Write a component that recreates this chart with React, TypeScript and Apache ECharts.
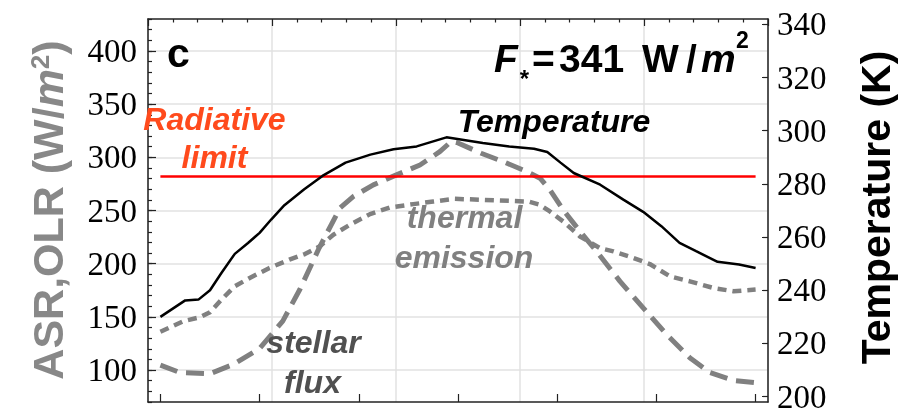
import React, { useEffect, useRef } from "react";
import * as echarts from "echarts";

// Temperature (K), right axis
const tempLat = [-90, -82.5, -78.5, -75, -71.5, -67.5, -63.5, -60, -56.5, -52.5, -46.5, -41, -34, -26.5, -19.5, -12.5, -7.5, -3.5, 7.5, 15.5, 23, 27, 31, 35, 43, 50, 56, 61.5, 67, 72, 78.5, 85, 90];
const tempK = [230, 236.2, 236.5, 240, 246.6, 253.7, 257.8, 261.6, 266.6, 272, 278, 283, 288, 291, 293, 294.1, 296, 297.5, 295.4, 294.1, 293.2, 292, 288, 284.1, 279.7, 274.1, 269.5, 264.1, 257.8, 254.7, 250.7, 249.7, 248.4];

// Thermal emission (OLR), left axis
const olrLat = [-90, -83, -78, -75, -71.5, -67.5, -63, -57, -51, -46.3, -41.8, -37.7, -32.7, -26.6, -20.6, -13.5, -7.5, -1, 7.6, 15.5, 21.3, 24.8, 27.8, 31.8, 36.9, 42.9, 47, 53, 58, 64.1, 70.1, 77.2, 83.3, 90];
const olrW = [136, 146, 149.7, 154.4, 166.3, 178.8, 186.6, 196, 203.8, 209.1, 216.3, 227.2, 236.6, 246.6, 252.8, 256, 258.4, 261, 260, 259.1, 258.4, 255.3, 249.1, 239.7, 225.6, 214.7, 211.6, 205.4, 199.7, 188.1, 183.4, 177.2, 174.1, 175.7];

// Stellar flux (ASR), left axis
const asrLat = [-90, -84, -75, -68, -60, -53, -47.8, -42, -35.7, -31.7, -25.6, -18.6, -11.5, -5.5, -2, 0, 7, 13.7, 20.8, 24.8, 27.8, 31.8, 36.9, 41.9, 49, 56, 63.1, 70.1, 76.2, 83.3, 90];
const asrW = [104.7, 97.6, 96.6, 105.3, 120.3, 146, 176, 214.7, 252.3, 263.1, 274.1, 283.5, 292.8, 305.3, 315, 313.5, 303.8, 295.9, 286.6, 280.4, 269.4, 250.7, 230.3, 211.6, 183.4, 158.5, 133.5, 111.6, 97.6, 90.3, 88.2];

// Radiative limit
const limitLat = [-90, 90];
const radiativeLimit = 282;

const leftTicks = [100, 150, 200, 250, 300, 350, 400];
const rightTicks = [200, 220, 240, 260, 280, 300, 320, 340];
const bottomTicks = [-90, -60, -30, 0, 30, 60, 90];

const SANS = "Liberation Sans";
const SERIF = "Times New Roman";

const pairs = (xs: number[], ys: number[]) => xs.map((x, i) => [x, ys[i]]);

const txt = (
  text: string,
  x: number,
  y: number,
  size: number,
  fill: string,
  opts: any = {}
) => {
  const style: any = {
    text,
    fill,
    fontSize: size,
    fontWeight: opts.weight || "bold",
    fontStyle: opts.italic ? "italic" : "normal",
    fontFamily: SANS,
    align: opts.align || "center",
    verticalAlign: "middle",
  };
  if (opts.rich) style.rich = opts.rich;
  return { type: "text", x, y, z: 10, rotation: opts.rotation || 0, style };
};

export default function App() {
  const ref = useRef<HTMLDivElement>(null);
  useEffect(() => {
    document.body.style.margin = "0";
    const chart = echarts.init(ref.current!, null, { renderer: "svg" });
    const mkLine = () => ({ show: true, onZero: false, lineStyle: { color: "#222", width: 1.5 } });
    const mkTick = () => ({ color: "#222", width: 1.2 });
    const mkLabel = (values: number[], margin: number) => ({
      show: true,
      customValues: values,
      margin,
      fontFamily: SERIF,
      fontSize: 33,
      color: "#000",
    });
    const red = "#ff4a1c";
    chart.setOption({
      animation: false,
      grid: { left: 148, right: 145, top: 19, bottom: 6, containLabel: false, outerBoundsMode: "none" },
      xAxis: [
        {
          type: "value",
          position: "bottom",
          min: -93.75,
          max: 93.75,
          z: 0,
          axisLine: mkLine(),
          axisTick: { show: true, inside: true, length: 8, customValues: bottomTicks, lineStyle: mkTick() },
          axisLabel: { show: false },
          splitLine: { show: false },
        },
        {
          type: "value",
          position: "top",
          min: -93.75,
          max: 93.75,
          interval: 37.5,
          z: 0,
          axisLine: mkLine(),
          axisTick: { show: true, inside: true, length: 7, lineStyle: mkTick() },
          minorTick: { show: true, splitNumber: 5, length: 3.5, lineStyle: mkTick() },
          axisLabel: { show: false },
          splitLine: { show: true, lineStyle: { color: "#e2e2e2", width: 1.5 } },
        },
      ],
      yAxis: [
        {
          type: "value",
          position: "left",
          min: 70,
          max: 430,
          interval: 10,
          z: 1,
          axisLine: mkLine(),
          axisTick: { show: true, inside: true, length: 4, lineStyle: mkTick() },
          axisLabel: { show: false },
          splitLine: { show: false },
        },
        {
          type: "value",
          position: "left",
          min: 70,
          max: 430,
          splitNumber: 7,
          z: 1,
          axisLine: { show: false, onZero: false },
          axisTick: { show: true, inside: true, length: 8, customValues: leftTicks, lineStyle: mkTick() },
          axisLabel: mkLabel(leftTicks, 11),
          splitLine: { show: true, lineStyle: { color: "#e2e2e2", width: 1.5 } },
        },
        {
          type: "value",
          position: "right",
          min: 198,
          max: 342,
          z: 1,
          axisLine: mkLine(),
          axisTick: { show: true, inside: true, length: 6, customValues: rightTicks, lineStyle: mkTick() },
          axisLabel: mkLabel(rightTicks, 9),
          splitLine: { show: false },
        },
      ],
      series: [
        {
          name: "stellar flux",
          type: "line",
          xAxisIndex: 0,
          yAxisIndex: 0,
          data: pairs(asrLat, asrW),
          symbol: "none",
          lineStyle: { color: "#808080", width: 5, type: [18, 9], cap: "butt" },
        },
        {
          name: "thermal emission",
          type: "line",
          xAxisIndex: 0,
          yAxisIndex: 0,
          data: pairs(olrLat, olrW),
          symbol: "none",
          lineStyle: { color: "#808080", width: 4.5, type: [9, 6], cap: "butt" },
        },
        {
          name: "Radiative limit",
          type: "line",
          xAxisIndex: 0,
          yAxisIndex: 0,
          data: pairs(limitLat, limitLat.map(() => radiativeLimit)),
          symbol: "none",
          lineStyle: { color: "#ff0000", width: 2.5 },
        },
        {
          name: "Temperature",
          type: "line",
          xAxisIndex: 0,
          yAxisIndex: 2,
          data: pairs(tempLat, tempK),
          symbol: "none",
          lineStyle: { color: "#000", width: 2.5 },
        },
      ],
      graphic: {
        elements: [
          txt("c", 167, 53, 41, "#000", { align: "left" }),
          txt("F", 494, 58, 39, "#000", { align: "left", italic: true }),
          txt("*", 524.5, 78, 24, "#000"),
          txt("=", 532, 58, 39, "#000", { align: "left" }),
          txt("341", 559, 58, 39, "#000", { align: "left" }),
          txt("W", 642, 58, 39, "#000", { align: "left" }),
          txt("/", 686, 58, 39, "#000", { align: "left" }),
          txt("m", 701, 58, 39, "#000", { align: "left", italic: true }),
          txt("2", 742.5, 40, 23, "#000"),
          txt("Radiative", 214.5, 118.5, 32, red, { italic: true }),
          txt("limit", 214.5, 157, 32, red, { italic: true }),
          txt("Temperature", 554, 120.5, 32, "#000", { italic: true }),
          txt("thermal", 464.5, 217, 32, "#808080", { italic: true }),
          txt("emission", 464, 257, 32, "#808080", { italic: true }),
          txt("stellar", 313.5, 342, 32, "#505050", { italic: true }),
          txt("flux", 312.5, 382, 32, "#505050", { italic: true }),
          txt("{a|ASR,OLR (W/}{b|m}{c|2}{a|)}", 48, 210, 43, "#888", {
            rotation: Math.PI / 2,
            rich: {
              a: { fontSize: 43, fontWeight: "bold", fontFamily: SANS, fill: "#888" },
              b: { fontSize: 43, fontWeight: "bold", fontStyle: "italic", fontFamily: SANS, fill: "#888" },
              c: { fontSize: 26, fontWeight: "bold", fontFamily: SANS, fill: "#888", verticalAlign: "top" },
            },
          }),
          txt("Temperature (K)", 876, 207.5, 41, "#000", { rotation: Math.PI / 2 }),
        ],
      },
    });
    return () => chart.dispose();
  }, []);
  return (
    <div
      ref={ref}
      style={{ position: "fixed", left: 0, top: 0, width: 913, height: 408 }}
    />
  );
}
